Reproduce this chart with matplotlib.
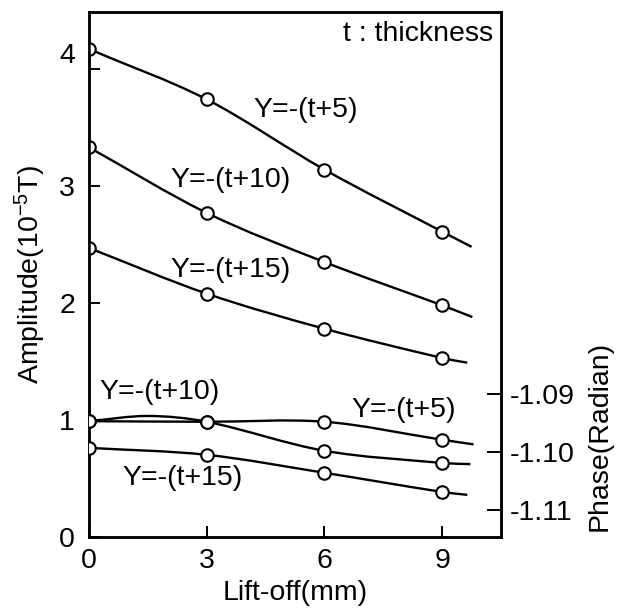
import matplotlib
matplotlib.use("Agg")
import matplotlib.pyplot as plt
import matplotlib.transforms as mtransforms
from matplotlib.path import Path
from matplotlib.patches import PathPatch

plt.rcParams['font.family'] = ['Liberation Sans', 'DejaVu Sans']
plt.rcParams['mathtext.fontset'] = 'custom'
plt.rcParams['mathtext.rm'] = 'Liberation Sans'
plt.rcParams['mathtext.it'] = 'Liberation Sans'

# ---- data ----
lift_off = [0, 3, 6, 9]

# amplitude (10^-5 T); last point = end of drawn curve (no marker)
amp_x_t5 = [0, 3, 6, 9, 9.75]
amp_t5 = [4.17, 3.74, 3.14, 2.61, 2.48]
amp_x_t10 = [0, 3, 6, 9, 9.77]
amp_t10 = [3.33, 2.77, 2.35, 1.98, 1.88]
amp_x_t15 = [0, 3, 6, 9, 9.64]
amp_t15 = [2.47, 2.08, 1.78, 1.53, 1.49]

# phase (radian)
ph_x_t5 = [0, 3, 6, 9, 9.8]
ph_t5 = [-1.0946, -1.0947, -1.0947, -1.0978, -1.0986]
ph_x_t10 = [0, 1.5, 3, 6, 9, 9.72]
ph_t10 = [-1.0946, -1.0937, -1.0947, -1.0997, -1.1018, -1.1020]
ph_x_t15 = [0, 3, 6, 9, 9.64]
ph_t15 = [-1.0992, -1.1004, -1.1035, -1.1068, -1.1073]

amp_ticks = [0, 1, 2, 3, 4]
phase_ticks = [-1.09, -1.10, -1.11]
phase_tick_labels = ['-1.09', '-1.10', '-1.11']
x_ticks = [0, 3, 6, 9]

FS = 20.5
LW = 1.7


def smooth_curve(a, xs, ys):
    """Draw a smooth cubic Bezier curve through the points (Hermite tangents in x)."""
    n = len(xs)
    slopes = []
    for i in range(n):
        j0 = max(i - 1, 0)
        j1 = min(i + 1, n - 1)
        slopes.append((ys[j1] - ys[j0]) / (xs[j1] - xs[j0]))
    verts = [(xs[0], ys[0])]
    codes = [Path.MOVETO]
    for i in range(n - 1):
        h = xs[i + 1] - xs[i]
        c1 = (xs[i] + h / 3, ys[i] + slopes[i] * h / 3)
        c2 = (xs[i + 1] - h / 3, ys[i + 1] - slopes[i + 1] * h / 3)
        verts += [c1, c2, (xs[i + 1], ys[i + 1])]
        codes += [Path.CURVE4] * 3
    a.add_patch(PathPatch(Path(verts, codes), facecolor='none',
                          edgecolor='black', lw=LW, capstyle='butt'))
    mx = [x for x in xs if x in lift_off]
    my = [y for x, y in zip(xs, ys) if x in lift_off]
    a.plot(mx, my, ls='none', marker='o', markersize=9, markerfacecolor='white',
           markeredgecolor='black', markeredgewidth=1.5, zorder=3)


fig = plt.figure(figsize=(6.29, 6.08), dpi=100)
ax = fig.add_axes([89/629, 1-537/608, 412/629, 525/608])
ax2 = ax.twinx()

ax.set_xlim(0, 10.5)
ax.set_ylim(0, 4.487)
ax2.set_ylim(-1.11457, -1.02405)

for xs, ys in [(amp_x_t5, amp_t5), (amp_x_t10, amp_t10), (amp_x_t15, amp_t15)]:
    smooth_curve(ax, xs, ys)
for xs, ys in [(ph_x_t5, ph_t5), (ph_x_t10, ph_t10), (ph_x_t15, ph_t15)]:
    smooth_curve(ax2, xs, ys)

ax.set_xlim(0, 10.5)
ax.set_ylim(0, 4.487)
ax2.set_ylim(-1.11457, -1.02405)

ax.set_xticks(x_ticks)
ax.set_yticks(amp_ticks)
ax2.set_yticks(phase_ticks)
ax2.set_yticklabels(phase_tick_labels)

ax.tick_params(axis='both', direction='in', length=8, width=1.4, labelsize=FS)
ax.tick_params(axis='y', pad=10)
ax.tick_params(axis='x', pad=8)
ax2.tick_params(axis='y', direction='in', length=10, width=1.4, labelsize=FS, pad=6)

for a in (ax, ax2):
    for s in a.spines.values():
        s.set_linewidth(1.8)

# the "4" label sits above its tick in the original
for lab in ax.get_yticklabels():
    if lab.get_text() == '4':
        lab.set_transform(lab.get_transform() +
                          mtransforms.ScaledTranslation(0, 16/100, fig.dpi_scale_trans))

ax.set_xlabel('Lift-off(mm)', fontsize=FS, labelpad=4)
ax.set_ylabel('Amplitude(10$^{-5}$T)', fontsize=FS, va='center')
ax.yaxis.set_label_coords(-0.143, 0.5)
ax2.set_ylabel('Phase(Radian)', fontsize=FS, va='center', rotation=90)
ax2.yaxis.set_label_coords(1.24, 0.192)

ax.text(0.981, 0.958, 't : thickness', transform=ax.transAxes,
        ha='right', va='center', fontsize=FS)

labels = [
    ('Y=-(t+5)', 5.51, 3.65),
    ('Y=-(t+10)', 3.62, 3.05),
    ('Y=-(t+15)', 3.62, 2.28),
    ('Y=-(t+10)', 1.79, 1.24),
    ('Y=-(t+5)', 8.02, 1.085),
    ('Y=-(t+15)', 2.39, 0.504),
]
for txt, x, y in labels:
    ax.text(x, y, txt, ha='center', va='center', fontsize=FS)

fig.savefig('out.png', dpi=100)
